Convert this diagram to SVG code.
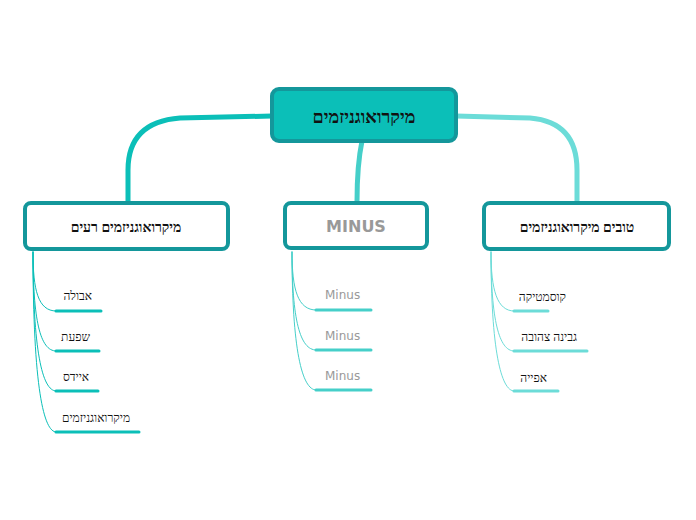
<svg xmlns="http://www.w3.org/2000/svg" width="696" height="520" viewBox="0 0 696 520">
<style>
.box{fill:#fff;stroke:#14979b;stroke-width:4}
.hb{font-family:"Liberation Serif","DejaVu Serif",serif;font-weight:bold;fill:#111}
.it{font-family:"Liberation Serif","DejaVu Serif",serif;font-size:12px;fill:#111}
.mn{font-family:"DejaVu Sans","Noto Sans",sans-serif;fill:#999}
.c{fill:none;stroke-linecap:round}
</style>
<rect width="696" height="520" fill="#fff"/>
<g id="connectors">
<path class="c" d="M272,116 L180,118 Q128,122 128,170 V202" stroke="#0bbfb8" stroke-width="5"/>
<path class="c" d="M362,141 Q357,165 357,202" stroke="#45cfc9" stroke-width="5"/>
<path class="c" d="M456,116 L530,118 Q577,122 577,170 V202" stroke="#6cdcd8" stroke-width="5"/>
<g stroke="#0bbfb8">
<path class="c" d="M33,252 C33,290 38,311 56,311 M33,252 C33,320 40,351 56,351 M33,252 C33,350 42,391 56,391 M33,252 C33,390 44,432 56,432" stroke-width="1"/>
<path class="c" d="M56,311H101M56,351H99M56,391H98M56,432H139" stroke-width="3"/>
</g>
<g stroke="#45cfc9">
<path class="c" d="M292,252 C292,290 298,310 316,310 M292,252 C292,320 300,350 316,350 M292,252 C292,350 302,390 316,390" stroke-width="1"/>
<path class="c" d="M316,310H371M316,350H371M316,390H371" stroke-width="3"/>
</g>
<g stroke="#6cdcd8">
<path class="c" d="M491,252 C491,290 497,311 514,311 M491,252 C491,320 499,351 514,351 M491,252 C491,350 501,391 514,391" stroke-width="1"/>
<path class="c" d="M514,311H548M514,351H587M514,391H558" stroke-width="3"/>
</g>
</g>
<g id="root"><rect x="272" y="89" width="184" height="52" rx="7" fill="#0bbfb8" stroke="#14979b" stroke-width="4"/><text x="364" y="123" text-anchor="middle" class="hb" font-size="18">מיקרואוגניזמים</text></g>
<g id="bad"><rect class="box" x="25" y="203" width="203" height="46" rx="6"/><text x="126" y="232" text-anchor="middle" class="hb" font-size="14">מיקרואוגניזמים רעים</text></g>
<g id="minus"><rect class="box" x="285" y="203" width="142" height="45" rx="6"/><text x="356" y="232" text-anchor="middle" class="mn" font-size="16" font-weight="bold">MINUS</text></g>
<g id="good"><rect class="box" x="484" y="203" width="185" height="46" rx="6"/><text x="577" y="232" text-anchor="middle" class="hb" font-size="14">טובים מיקרואוגניזמים</text></g>
<g id="items">
<text class="it" x="92" y="300" text-anchor="end">אבולה</text>
<text class="it" x="90" y="341" text-anchor="end">שפעת</text>
<text class="it" x="89" y="381" text-anchor="end">איידס</text>
<text class="it" x="130" y="422" text-anchor="end">מיקרואוגניזמים</text>
<text class="mn" x="325" y="299" font-size="12">Minus</text>
<text class="mn" x="325" y="340" font-size="12">Minus</text>
<text class="mn" x="325" y="380" font-size="12">Minus</text>
<text class="it" x="566" y="301" text-anchor="end">קוסמטיקה</text>
<text class="it" x="577" y="341" text-anchor="end">גבינה צהובה</text>
<text class="it" x="547" y="382" text-anchor="end">אפייה</text>
</g>
</svg>
